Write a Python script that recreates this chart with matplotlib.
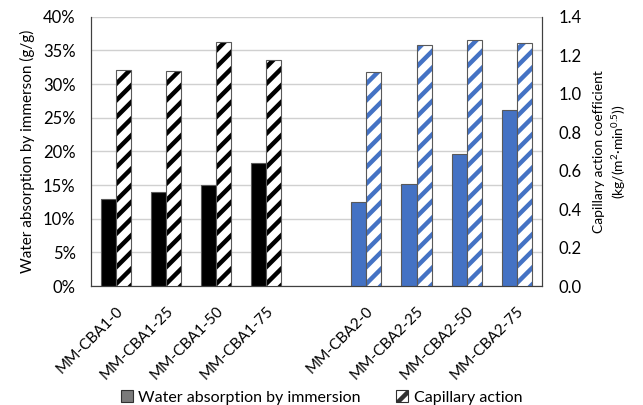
import matplotlib
matplotlib.use("Agg")
import matplotlib.pyplot as plt
from matplotlib.patches import Patch
import numpy as np

plt.rcParams['font.family'] = ['Lato', 'DejaVu Sans']
plt.rcParams['mathtext.fontset'] = 'custom'
plt.rcParams['mathtext.rm'] = 'Lato'
plt.rcParams['mathtext.it'] = 'Lato:italic'
plt.rcParams['hatch.linewidth'] = 3.2

categories = ["MM-CBA1-0", "MM-CBA1-25", "MM-CBA1-50", "MM-CBA1-75", "",
              "MM-CBA2-0", "MM-CBA2-25", "MM-CBA2-50", "MM-CBA2-75"]
# water absorption by immersion (%), left axis
immersion = [12.9, 13.9, 15.0, 18.3, np.nan, 12.5, 15.2, 19.6, 26.2]
# capillary action coefficient, right axis
capillary = [1.125, 1.118, 1.266, 1.176, np.nan, 1.112, 1.251, 1.279, 1.261]
group_colors = ["#000000"] * 5 + ["#4472C4"] * 4

left_ticks = [0, 5, 10, 15, 20, 25, 30, 35, 40]
right_ticks = [0.0, 0.2, 0.4, 0.6, 0.8, 1.0, 1.2, 1.4]

fig = plt.figure(figsize=(6.43, 4.05), dpi=100)
ax = fig.add_axes([0.1415, 0.2938, 0.701, 0.665])
ax2 = ax.twinx()

x = np.arange(len(categories))
w = 0.3
edge = "#595959"

for i in x:
    if np.isnan(immersion[i]):
        continue
    c = group_colors[i]
    ax.bar(x[i] - w / 2, immersion[i], w, color=c, edgecolor=edge, linewidth=0.8, zorder=3)
    # hatched bar: hatch drawn in the series colour, outline added separately
    ax2.bar(x[i] + w / 2, capillary[i], w, color="white", edgecolor=c, hatch="//",
            linewidth=0, zorder=3)
    ax2.bar(x[i] + w / 2, capillary[i], w, fill=False, edgecolor=edge, linewidth=0.8, zorder=4)

ax.set_xlim(-0.5, len(categories) - 0.5)
ax.set_ylim(0, 40)
ax2.set_ylim(0, 1.4)
ax.set_yticks(left_ticks)
ax.set_yticklabels([f"{t}%" for t in left_ticks])
ax2.set_yticks(right_ticks)
ax2.set_yticklabels([f"{t:.1f}" for t in right_ticks])

ax.yaxis.grid(True, color="#D0D0D0", linewidth=1.0, zorder=0)
ax.set_axisbelow(True)

ax.set_xticks(x)
ax.set_xticklabels(categories, rotation=45, ha="right", rotation_mode="anchor")
ax.tick_params(axis="x", length=0, pad=13, labelsize=11)
ax.tick_params(axis="y", length=0, pad=11, labelsize=12)
ax2.tick_params(axis="y", length=0, pad=12, labelsize=12)

for a in (ax, ax2):
    a.spines["top"].set_visible(False)
    a.spines["left"].set_color("#404040")
    a.spines["right"].set_color("#404040")
    a.spines["bottom"].set_color("#404040")

ax.set_ylabel("Water absorption by immerson (g/g)", fontsize=11, labelpad=6)
ax2.set_ylabel("Capillary action coefficient\n(kg/(m$^{2}$·min$^{0.5}$))",
               fontsize=10, labelpad=8, linespacing=1.4)

handles = [Patch(facecolor="#7A7A7A", edgecolor="#303030", linewidth=0.8),
           Patch(facecolor="white", edgecolor="#303030", hatch="//", linewidth=0.8)]
fig.legend(handles, ["Water absorption by immersion", "Capillary action"],
           loc="lower center", bbox_to_anchor=(0.5, -0.035), ncol=2, frameon=False,
           fontsize=11.5, handlelength=0.75, handleheight=0.75, handletextpad=0.35,
           columnspacing=2.2)

fig.savefig("out.png", dpi=100)
